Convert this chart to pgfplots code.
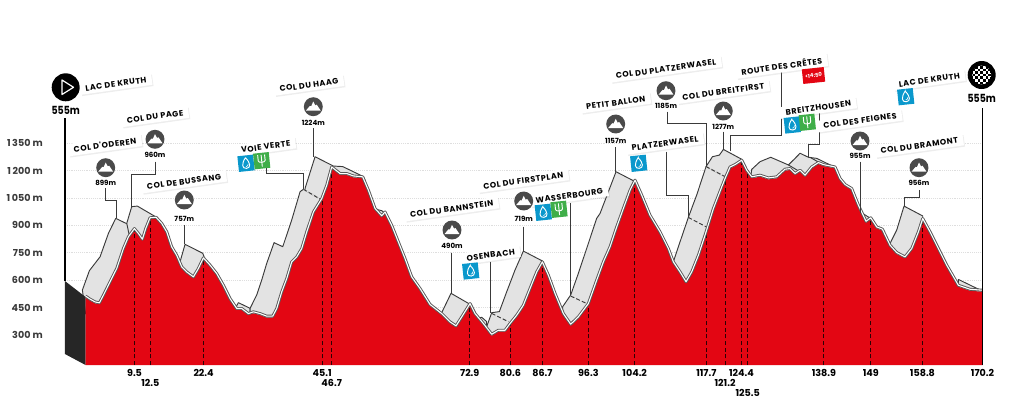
\documentclass[border=0pt]{standalone}
\usepackage{fontspec}
\setmainfont{Poppins}
\newfontfamily\lab[LetterSpace=7]{Poppins}
\usepackage{pgfplots}
\pgfplotsset{compat=1.18}
\usepackage{pgfplotstable}
\usetikzlibrary{shadows}
\definecolor{rred}{HTML}{E30613}
\definecolor{ghost}{HTML}{E3E3E3}
\definecolor{ink}{HTML}{3A3A3A}
\definecolor{dgray}{HTML}{4A4A4A}
\definecolor{wblue}{HTML}{0A98CC}
\definecolor{fgreen}{HTML}{3FAE49}
\pgfplotstableread{
km ele
0 505
0.86 488
1.81 473
2.63 468
3.39 510
4.65 583
5.92 656
7.18 765
8.13 829
9.27 874
10.03 847
10.79 816
11.42 874
12.24 933
13.38 936
14.46 902
15.41 856
16.35 774
17.30 728
18.25 665
19.20 637
20.47 610
21.41 656
22.36 714
23.63 674
24.89 628
26.16 564
27.42 491
28.69 437
29.64 437
30.90 409
31.85 419
33.12 409
34.38 395
35.52 395
36.28 437
37.23 528
38.18 601
39.12 692
40.07 719
41.02 765
41.97 856
43.24 965
44.82 1038
45.77 1111
46.71 1211
48.30 1175
49.56 1175
50.82 1162
52.59 1157
53.67 1084
54.93 984
56.20 944
56.83 965
58.09 892
59.36 801
60.62 710
61.89 610
63.47 546
65.37 459
67.58 409
69.16 364
70.30 342
71.38 391
72.96 464
73.91 409
75.49 355
77.07 296
78.33 318
79.60 318
80.55 355
81.81 400
83.08 455
84.34 546
85.61 637
86.68 692
87.82 619
89.09 519
90.67 409
92.06 351
93.51 391
95.41 464
96.99 592
98.26 692
99.52 774
100.79 883
102.05 984
103.32 1084
104.27 1139
105.53 1057
107.11 947
109.01 856
110.59 765
111.54 692
112.81 637
113.95 583
115.02 637
116.29 728
117.55 838
119.14 984
120.72 1102
121.35 1148
122.30 1211
123.25 1224
124.51 1248
125.46 1193
126.41 1157
127.99 1166
129.57 1151
131.15 1157
132.73 1199
133.68 1202
134.63 1175
135.58 1193
136.53 1166
137.79 1211
139.06 1235
140.01 1224
142.22 1211
143.17 1148
144.12 1115
145.38 1093
146.65 1002
148.10 914
148.99 933
150.13 883
151.20 871
152.66 783
153.92 743
155.50 719
156.77 765
158.03 856
158.86 929
160.25 856
161.83 765
163.41 674
165.62 564
167.84 542
170.2 537
}\profile
\pgfplotstableread{
km top
9.3 870
12.3 932
22.4 712
44.9 1040
46.7 1210
72.9 464
80.6 355
86.7 690
95.4 464
104.2 1140
117.8 850
121.35 1147
124.45 1245
125.65 1185
140.1 1224
149 932
158.8 930
}\drops
\tikzset{
 labelbox/.style={fill=white,rotate=8,inner xsep=4pt,inner ysep=2.2pt,
   font=\lab\bfseries\fontsize{6}{7}\selectfont,text=black,
   drop shadow={opacity=.14,shadow xshift=.8pt,shadow yshift=-1pt}},
 leader/.style={draw=ink,line width=.75pt},
 elev/.style={font=\bfseries\fontsize{5.3}{6}\selectfont,text=black,inner sep=0pt},
 big/.style={font=\bfseries\fontsize{8.4}{10}\selectfont,text=black,inner sep=0pt,xscale=.84}
}
\newcommand\tone[1]{\rule{0pt}{8.25pt}#1}
\newcommand\ttwo[1]{\rule{0pt}{15.75pt}#1}
\newcommand\tthree[1]{\rule{0pt}{23.25pt}#1}
\newcommand\lbl[3]{\node[labelbox] at (#1,#2) {#3};}
\newcommand\mtn[4]{%
 \begin{scope}[shift={(#1,#2)}]
 \fill[dgray] (0,0) circle (7.1pt);
 \fill[white] (-5.6pt,-3pt) -- (-2.6pt,.6pt) -- (-1.6pt,.3pt) -- (0pt,3.9pt) -- (1.5pt,1pt) -- (2.6pt,1.5pt) -- (5.6pt,-3pt) -- cycle;
 \end{scope}
 \node[elev] at (#1,#4) {#3};}
\newcommand\water[2]{%
 \begin{scope}[shift={(#1,#2)},rotate=6]
 \fill[wblue] (-5.9pt,-5.9pt) rectangle (5.9pt,5.9pt);
 \draw[white,line width=.7pt] (0pt,4.2pt) .. controls (-3.6pt,-.2pt) and (-3.4pt,-3.8pt) .. (0pt,-3.8pt) .. controls (3.4pt,-3.8pt) and (3.6pt,-.2pt) .. cycle;
 \draw[white,line width=.45pt] (1.6pt,-.6pt) .. controls (1.6pt,-2pt) and (.6pt,-2.4pt) .. (-.2pt,-2.4pt);
 \end{scope}}
\newcommand\fork[2]{%
 \begin{scope}[shift={(#1,#2)},rotate=6]
 \fill[fgreen] (-5.9pt,-5.9pt) rectangle (5.9pt,5.9pt);
 \draw[white,line width=.7pt] (-2.6pt,4.4pt) -- (-2.6pt,0pt) .. controls (-2.6pt,-1.6pt) and (2.6pt,-1.6pt) .. (2.6pt,0pt) -- (2.6pt,4.4pt);
 \draw[white,line width=.7pt] (0pt,4.4pt) -- (0pt,-4.4pt);
 \end{scope}}
\begin{document}
\begin{tikzpicture}
\useasboundingbox (0,0) rectangle (768pt,303.75pt);
\begin{axis}[
  at={(48.75pt,30pt)},anchor=south west,
  scale only axis,width=688.125pt,height=187.07pt,
  xmin=-3.9,xmax=170.2,ymin=136,ymax=1500,clip=false,
  axis line style={draw=none},tick style={draw=none},
  ymajorgrids,grid style={densely dotted,line width=.4pt,black!13},
  ytick={300,450,600,750,900,1050,1200,1350},
  yticklabels={300 m,450 m,600 m,750 m,900 m,1\,050 m,1\,200 m,1\,350 m},
  yticklabel style={font=\bfseries\fontsize{7.2}{8}\selectfont,text=ink,inner sep=0pt,anchor=east,xshift=-16.5pt},
  xtick={9.3,12.3,22.4,44.9,46.7,72.9,80.6,86.7,95.4,104.2,117.8,121.35,124.45,125.65,140.1,149,158.8,170.2},
  xticklabels={\tone{9.5},\ttwo{12.5},\tone{22.4},\tone{45.1},\ttwo{46.7},\tone{72.9},\tone{80.6},\tone{86.7},\tone{96.3},\tone{104.2},\tone{117.7},\ttwo{121.2},\tone{124.4},\tthree{125.5},\tone{138.9},\tone{149},\tone{158.8},\tone{170.2}},
  xticklabel style={font=\bfseries\fontsize{7.2}{8}\selectfont,text=black,inner sep=0pt,anchor=north,yshift=0pt},
  xtick align=outside,major tick length=0pt,
]
% grey climbs
\pgfplotsset{gh/.style={fill=ghost,draw=ink,line width=.7pt,line join=round}}
\addplot[gh] coordinates {(-0.6,546)(0.73,652)(2.76,728)(4.34,856)(5.73,938)(7.94,907)(9.27,874)(9.27,710)(2.63,346)(0,418)} -- cycle;
\addplot[gh] coordinates {(7.82,911)(8.76,1002)(9.84,1005)(13.51,943)(13.51,710)(9.27,710)} -- cycle;
\addplot[gh] coordinates {(17.94,701)(18.88,796)(22.24,747)(22.49,728)(22.49,528)(18.25,528)} -- cycle;
\addplot[gh] coordinates {(28.25,437)(29,477)(31.22,446)(31.22,300)(28.25,300)} -- cycle;
\addplot[gh] coordinates {(41.65,1102)(43.55,1275)(47.03,1224)(48.8,1221)(50.82,1193)(52.72,1166)(53.03,1148)(53.03,900)(41.65,900)} -- cycle;
\addplot[gh] coordinates {(31.22,446)(32.48,519)(33.43,601)(34.38,692)(35.77,805)(37.42,783)(39.12,929)(40.71,1084)(41.34,1097)(44.82,1038)(44.82,892)(35.52,346)(31.22,346)} -- cycle;
\addplot[ghost,line width=1pt] coordinates {(41.34,1097)(44.82,1038)};
\addplot[ink,line width=.7pt,dash pattern=on 3pt off 1.6pt] coordinates {(41.34,1097)(44.82,1038)};
\addplot[gh] coordinates {(54.93,989)(56.2,980)(56.83,965)(56.83,800)(54.93,800)} -- cycle;
\addplot[gh] coordinates {(67.46,415)(69.35,528)(72.96,468)(72.96,250)(67.46,250)} -- cycle;
\addplot[gh] coordinates {(74.35,391)(75.17,397)(76.12,373)(76.12,250)(74.35,250)} -- cycle;
\addplot[gh] coordinates {(76.12,346)(77.07,422)(78.52,428)(79.92,537)(81.5,656)(83.08,759)(86.68,705)(86.68,530)(80.55,254)(76.12,254)} -- cycle;
\addplot[ink,line width=.7pt,dash pattern=on 3pt off 1.6pt] coordinates {(77.07,418)(80.23,373)};
\addplot[gh] coordinates {(90.54,455)(92.06,519)(93.51,637)(95.41,801)(96.99,938)(97.63,965)(100.66,1193)(104.27,1139)(104.27,984)(95.41,346)(90.54,346)} -- cycle;
\addplot[ink,line width=.7pt,dash pattern=on 3pt off 1.6pt] coordinates {(92.06,513)(95.41,468)};
\addplot[gh] coordinates {(117.74,1221)(118.95,1275)(120.27,1284)(121.03,1315)(124.51,1261)(124.51,1100)(117.74,1100)} -- cycle;
\addplot[gh] coordinates {(111.54,701)(112.81,810)(114.39,944)(115.97,1066)(117.74,1221)(121.35,1166)(121.35,984)(113.95,491)(111.54,528)} -- cycle;
\addplot[ghost,line width=1pt] coordinates {(117.74,1221)(121.35,1166)};
\addplot[ink,line width=.7pt,dash pattern=on 3pt off 1.6pt] coordinates {(117.74,1221)(121.35,1166)};
\addplot[ink,line width=.7pt,dash pattern=on 3pt off 1.6pt] coordinates {(114.39,943)(117.74,892)};
\addplot[gh] coordinates {(126.22,1166)(126.41,1206)(127.99,1248)(130.01,1272)(133.37,1230)(134.63,1266)(135.58,1294)(137.16,1272)(138.74,1266)(142.22,1217)(142.22,1100)(126.22,1100)} -- cycle;
\addplot[ink,line width=.7pt] coordinates {(133.37,1230)(136.85,1171)};
\addplot[ink,line width=.7pt] coordinates {(137.47,1272)(140.01,1230)};
\addplot[gh] coordinates {(147.28,969)(149.18,933)(149.18,800)(147.28,800)} -- cycle;
\addplot[gh] coordinates {(152.66,801)(153.92,874)(155.31,1005)(158.86,951)(158.86,700)(155.5,500)(152.66,500)} -- cycle;
\addplot[gh] coordinates {(165.62,604)(170.05,542)(170.2,400)(165.62,400)} -- cycle;
% start wall
\addplot[fill=black!85,draw=none] coordinates {(-3.9,595)(0,508)(0,136)(-3.9,196)} -- cycle;
% the profile
\addplot[fill=rred,draw=none] table[x=km,y=ele] {\profile} -- (axis cs:170.2,136) -- (axis cs:0,136) -- cycle;
\addplot[ycomb,no marks,line width=.7pt,black!80!rred,dash pattern=on 3pt off 2pt] table[x=km,y=top] {\drops};
\addplot[black!65,line width=2.2pt,yshift=1.1pt,line join=round] table[x=km,y=ele] {\profile};
\addplot[white,line width=.8pt,yshift=1.1pt,line join=round] table[x=km,y=ele] {\profile};
\addplot[black,line width=.8pt] coordinates {(170.2,136)(170.2,1541)};
\addplot[black,line width=.8pt] coordinates {(-3.9,595)(-3.9,1487)};
\end{axis}
\begin{scope}[x=.75pt,y=-.75pt,shift={(0pt,303.75pt)}]
% leader lines
\draw[leader] (105.7,188.3)--(105.7,200)--(116.7,200)--(116.7,218);
\draw[leader] (155.7,161.7)--(155.7,174)--(131.7,174)--(131.7,206.7);
\draw[leader] (184.3,225)--(184.3,244.3);
\draw[leader] (313.3,128.3)--(313.3,156.7);
\draw[leader] (266,168.3)--(266,173.3)--(303.3,173.3)--(303.3,189.3);
\draw[leader] (451.7,253.3)--(451.7,293.3);
\draw[leader] (490.7,261.7)--(490.7,313.3);
\draw[leader] (523.7,226.7)--(523.7,251);
\draw[leader] (570,203.3)--(570,295);
\draw[leader] (615.7,147.3)--(615.7,171.7);
\draw[leader] (667.7,111.7)--(667.7,123.3)--(706,123.3)--(706,166.7);
\draw[leader] (666,151.7)--(666,195)--(688.3,195)--(688.3,217.3);
\draw[leader] (723.3,131.7)--(723.3,149.3);
\draw[leader] (781.7,70)--(781.7,135.7)--(730,135.7)--(730,150.7);
\draw[leader] (819.3,110)--(819.3,144)--(808.3,144)--(808.3,157.3);
\draw[leader] (860.3,161.7)--(860.3,213.3);
\draw[leader] (919.3,190)--(919.3,197.7)--(904,197.7)--(904,206);
% start and finish
\fill[black] (65.7,87.3) circle (10.5pt);
\draw[white,line width=.9pt,line join=round] (62,80)--(62,94.5)--(73.5,87.3)--cycle;
\node[big] at (65.7,110) {555m};
\begin{scope}[shift={(981.7,75)}]
\fill[black] (0,0) circle (10.5pt);
\begin{scope}
\clip (0,0) circle (9.4);
\foreach \i in {-4,-2,0,2,4} {\foreach \j in {-4,-2,0,2,4} {
  \fill[white] (\i*2.6-1.3,\j*2.6-1.3) rectangle ++(2.6,2.6);
  \fill[white] (\i*2.6+1.3,\j*2.6+1.3) rectangle ++(2.6,2.6);
}}
\end{scope}
\end{scope}
\node[big] at (981.7,98.3) {555m};
% labels
\lbl{116}{84}{LAC DE KRUTH}
\lbl{105}{145}{COL D'ODEREN}
\lbl{155}{116.7}{COL DU PAGE}
\lbl{184}{181.7}{COL DE BUSSANG}
\lbl{309}{85}{COL DU HAAG}
\lbl{265.7}{146.7}{VOIE VERTE}
\lbl{451.7}{209}{COL DU BANNSTEIN}
\lbl{490.7}{255}{OSENBACH}
\lbl{523.3}{180.7}{COL DU FIRSTPLAN}
\lbl{569.3}{195.7}{WASSERBOURG}
\lbl{615.7}{102.7}{PETIT BALLON}
\lbl{666}{69}{COL DU PLATZERWASEL}
\lbl{665}{143.5}{PLATZERWASEL}
\lbl{723.3}{91.7}{COL DU BREITFIRST}
\lbl{781.7}{65.7}{ROUTE DES CRÊTES}
\lbl{818.3}{107.7}{BREITZHOUSEN}
\lbl{860}{120.7}{COL DES FEIGNES}
\lbl{919.3}{145.7}{COL DU BRAMONT}
\lbl{929.3}{80}{LAC DE KRUTH}
% mountain icons
\mtn{105.7}{167.7}{899m}{182.7}
\mtn{155}{139.3}{960m}{155.3}
\mtn{184.3}{200}{757m}{219}
\mtn{313.3}{106.7}{1224m}{123.3}
\mtn{452}{230}{490m}{246}
\mtn{523.7}{201}{719m}{219.3}
\mtn{615.7}{124}{1157m}{141}
\mtn{666}{90.7}{1185m}{106}
\mtn{723.3}{111}{1277m}{126.7}
\mtn{860}{141}{955m}{156}
\mtn{919}{167.7}{956m}{183.3}
% service icons
\water{246}{163.3}\fork{261.7}{160.7}
\water{470.7}{271}
\water{543.3}{212.3}\fork{559}{209.3}
\water{638.7}{163.3}
\water{792.3}{125}\fork{807.3}{122.3}
\water{905.7}{96.7}
\node[fill=rred,rotate=6,minimum width=16.5pt,minimum height=11pt,inner sep=0pt,text=white,font=\bfseries\fontsize{4}{5}\selectfont] at (813.5,75.5) {<14:50};
\end{scope}
\end{tikzpicture}
\end{document}
